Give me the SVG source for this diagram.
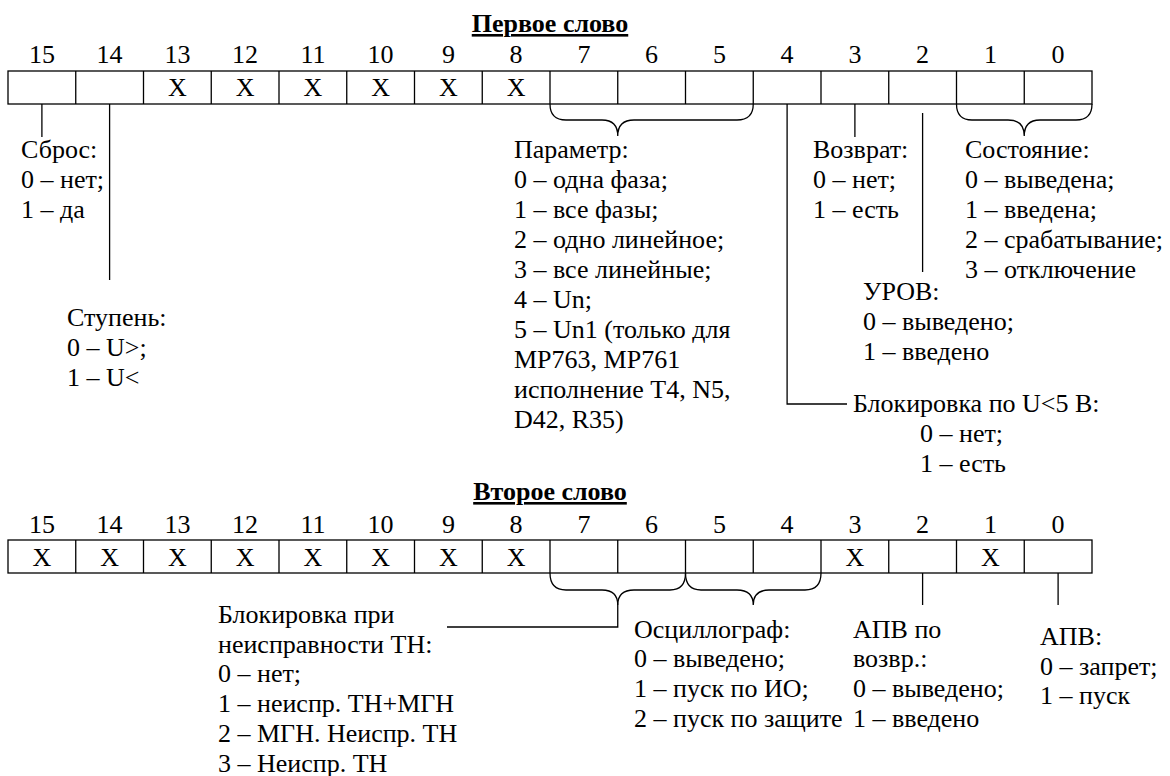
<svg xmlns="http://www.w3.org/2000/svg" width="1170" height="776" viewBox="0 0 1170 776">
<style>
  text { font-family: "Liberation Serif", Tinos, "Times New Roman", Times, "DejaVu Serif", serif; font-size: 26px; fill: #000; }
  .c { text-anchor: middle; }
  .h { font-weight: bold; text-decoration: underline; }
  .ln { stroke: #000; stroke-width: 1.3; fill: none; }
  .bx { stroke: #000; stroke-width: 1.3; fill: #fff; }
</style>
<rect width="1170" height="776" fill="#fff"/>

<!-- ========== WORD 1 ========== -->
<g id="word1-title"><text class="c h" x="550" y="32">Первое слово</text></g>

<g id="word1-register">
  <rect class="bx" x="8" y="71" width="1084" height="33"/>
  <path class="ln" d="M75.75,71V104M143.5,71V104M211.25,71V104M279,71V104M346.75,71V104M414.5,71V104M482.25,71V104M550,71V104M617.75,71V104M685.5,71V104M753.25,71V104M821,71V104M888.75,71V104M956.5,71V104M1024.25,71V104"/>
  <g class="c">
    <text x="41.9" y="63">15</text><text x="109.6" y="63">14</text><text x="177.4" y="63">13</text><text x="245.1" y="63">12</text>
    <text x="312.9" y="63">11</text><text x="380.6" y="63">10</text><text x="448.4" y="63">9</text><text x="516.1" y="63">8</text>
    <text x="583.9" y="63">7</text><text x="651.6" y="63">6</text><text x="719.4" y="63">5</text><text x="787.1" y="63">4</text>
    <text x="854.9" y="63">3</text><text x="922.6" y="63">2</text><text x="990.4" y="63">1</text><text x="1058.1" y="63">0</text>
    <text x="177.4" y="96">X</text><text x="245.1" y="96">X</text><text x="312.9" y="96">X</text>
    <text x="380.6" y="96">X</text><text x="448.4" y="96">X</text><text x="516.1" y="96">X</text>
  </g>
</g>

<g id="lbl-sbros">
  <text x="21" y="158">Сброс:</text>
  <text x="21" y="188">0 – нет;</text>
  <text x="21" y="218">1 – да</text>
</g>
<g id="lbl-stupen">
  <text x="67" y="326">Ступень:</text>
  <text x="67" y="356">0 – U&gt;;</text>
  <text x="67" y="386">1 – U&lt;</text>
</g>
<g id="lbl-parametr">
  <text x="514" y="158">Параметр:</text>
  <text x="514" y="188">0 – одна фаза;</text>
  <text x="514" y="218">1 – все фазы;</text>
  <text x="514" y="248">2 – одно линейное;</text>
  <text x="514" y="278">3 – все линейные;</text>
  <text x="514" y="308">4 – Un;</text>
  <text x="514" y="338">5 – Un1 (только для</text>
  <text x="514" y="368">MP763, MP761</text>
  <text x="514" y="398">исполнение T4, N5,</text>
  <text x="514" y="428">D42, R35)</text>
</g>
<g id="lbl-vozvrat">
  <text x="813" y="158">Возврат:</text>
  <text x="813" y="188">0 – нет;</text>
  <text x="813" y="218">1 – есть</text>
</g>
<g id="lbl-sostoyanie">
  <text x="965" y="158">Состояние:</text>
  <text x="965" y="188">0 – выведена;</text>
  <text x="965" y="218">1 – введена;</text>
  <text x="965" y="248">2 – срабатывание;</text>
  <text x="965" y="278">3 – отключение</text>
</g>
<g id="lbl-urov">
  <text x="863" y="300">УРОВ:</text>
  <text x="863" y="330">0 – выведено;</text>
  <text x="863" y="360">1 – введено</text>
</g>
<g id="lbl-blok-u5">
  <text x="853" y="412">Блокировка по U&lt;5 В:</text>
  <text x="920" y="442">0 – нет;</text>
  <text x="920" y="472">1 – есть</text>
</g>

<!-- ========== WORD 2 ========== -->
<g id="word2-title"><text class="c h" x="550" y="500">Второе слово</text></g>

<g id="word2-register">
  <rect class="bx" x="8" y="540" width="1084" height="33"/>
  <path class="ln" d="M75.75,540V573M143.5,540V573M211.25,540V573M279,540V573M346.75,540V573M414.5,540V573M482.25,540V573M550,540V573M617.75,540V573M685.5,540V573M753.25,540V573M821,540V573M888.75,540V573M956.5,540V573M1024.25,540V573"/>
  <g class="c">
    <text x="41.9" y="533">15</text><text x="109.6" y="533">14</text><text x="177.4" y="533">13</text><text x="245.1" y="533">12</text>
    <text x="312.9" y="533">11</text><text x="380.6" y="533">10</text><text x="448.4" y="533">9</text><text x="516.1" y="533">8</text>
    <text x="583.9" y="533">7</text><text x="651.6" y="533">6</text><text x="719.4" y="533">5</text><text x="787.1" y="533">4</text>
    <text x="854.9" y="533">3</text><text x="922.6" y="533">2</text><text x="990.4" y="533">1</text><text x="1058.1" y="533">0</text>
    <text x="41.9" y="566">X</text><text x="109.6" y="566">X</text><text x="177.4" y="566">X</text><text x="245.1" y="566">X</text>
    <text x="312.9" y="566">X</text><text x="380.6" y="566">X</text><text x="448.4" y="566">X</text><text x="516.1" y="566">X</text>
    <text x="854.9" y="566">X</text><text x="990.4" y="566">X</text>
  </g>
</g>

<g id="lbl-blok-tn">
  <text x="218" y="623">Блокировка при</text>
  <text x="218" y="652.5">неисправности ТН:</text>
  <text x="218" y="682">0 – нет;</text>
  <text x="218" y="712">1 – неиспр. ТН+МГН</text>
  <text x="218" y="742">2 – МГН. Неиспр. ТН</text>
  <text x="218" y="772">3 – Неиспр. ТН</text>
</g>
<g id="lbl-oscill">
  <text x="634" y="638">Осциллограф:</text>
  <text x="634" y="667">0 – выведено;</text>
  <text x="634" y="697">1 – пуск по ИО;</text>
  <text x="634" y="727">2 – пуск по защите</text>
</g>
<g id="lbl-apv-vozvr">
  <text x="853" y="638">АПВ по</text>
  <text x="853" y="667">возвр.:</text>
  <text x="853" y="697">0 – выведено;</text>
  <text x="853" y="727">1 – введено</text>
</g>
<g id="lbl-apv">
  <text x="1040" y="645">АПВ:</text>
  <text x="1040" y="675">0 – запрет;</text>
  <text x="1040" y="704">1 – пуск</text>
</g>

<!-- ========== CONNECTORS ========== -->
<g id="connectors" class="ln">
  <!-- word 1 -->
  <path d="M41.9,104V137"/>
  <path d="M109.6,104V280"/>
  <path d="M550,104Q550,120 566,120H602Q617.75,120 617.75,136Q617.75,120 634,120H737Q753.25,120 753.25,104"/>
  <path d="M787.1,104V404H847"/>
  <path d="M854.9,104V137"/>
  <path d="M922.6,113V272"/>
  <path d="M956.5,104Q956.5,120 972,120H1008Q1024.25,120 1024.25,136Q1024.25,120 1040,120H1076Q1092,120 1092,104"/>
  <!-- word 2 -->
  <path d="M550,573Q550,590 566,590H602Q617.75,590 617.75,605V627H447"/>
  <path d="M617.75,605Q617.75,590 634,590H670Q685.5,590 685.5,573"/>
  <path d="M685.5,573Q685.5,590 701,590H737Q753.25,590 753.25,605Q753.25,590 769,590H805Q821,590 821,573"/>
  <path d="M922.6,573V605"/>
  <path d="M1058.1,573V605"/>
</g>
</svg>
